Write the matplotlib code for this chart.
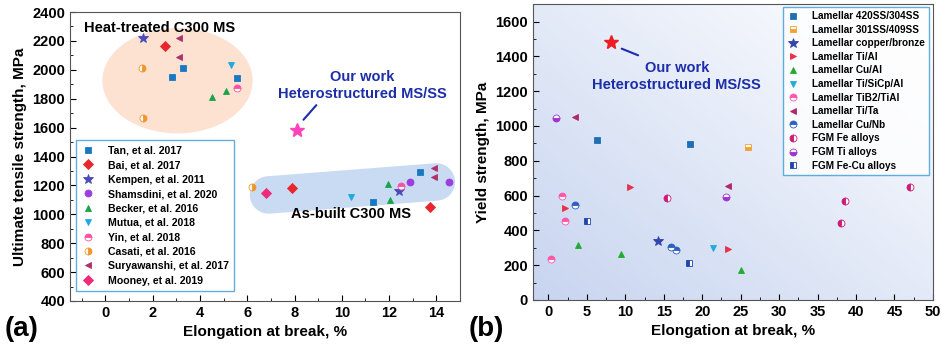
import numpy as np
import matplotlib
matplotlib.use("Agg")
import matplotlib.pyplot as plt
from matplotlib.patches import Ellipse
from matplotlib.ticker import MultipleLocator
from matplotlib.colors import LinearSegmentedColormap

plt.rcParams['font.family'] = ['Liberation Sans', 'DejaVu Sans']
plt.rcParams['font.weight'] = 'bold'

# ---- panel (a): UTS vs elongation ----
a_names = ["Tan, et al. 2017", "Bai, et al. 2017", "Kempen, et al. 2011",
           "Shamsdini, et al. 2020", "Becker, et al. 2016", "Mutua, et al. 2018",
           "Yin, et al. 2018", "Casati, et al. 2016", "Suryawanshi, et al. 2017",
           "Mooney, et al. 2019"]
a_x = [[2.8, 3.3, 5.55, 11.3, 13.3], [2.5, 7.9, 13.75], [1.6, 12.4],
       [12.9, 14.55], [4.5, 5.1, 11.95, 12.05], [5.3, 10.4],
       [5.55, 12.5], [1.55, 1.6, 6.2], [3.1, 3.1, 13.9, 13.9], [6.8]]
a_y = [[1950, 2015, 1945, 1085, 1293], [2165, 1182, 1050], [2220, 1160],
       [1224, 1224], [1810, 1855, 1210, 1100], [2035, 1120],
       [1875, 1196], [2010, 1665, 1189], [2220, 2090, 1320, 1258], [1147]]
a_style = [('s', '#1a78c2', 'full'), ('D', '#e8262e', 'full'), ('*', '#4a4ab8', 'full'),
           ('o', '#9b3de0', 'full'), ('^', '#1aa34a', 'full'), ('v', '#20a8e0', 'full'),
           ('o', '#ff4fa0', 'top'), ('o', '#f0952a', 'right'), ('<', '#b0306a', 'full'),
           ('D', '#ee2a7b', 'full')]
a_ours = (8.1, 1583)

# ---- panel (b): yield strength vs elongation ----
b_names = ["Lamellar 420SS/304SS", "Lamellar 301SS/409SS", "Lamellar copper/bronze",
           "Lamellar Ti/Al", "Lamellar Cu/Al", "Lamellar Ti/SiCp/Al",
           "Lamellar TiB2/TiAl", "Lamellar Ti/Ta", "Lamellar Cu/Nb",
           "FGM Fe alloys", "FGM Ti alloys", "FGM Fe-Cu alloys"]
b_x = [[6.3, 18.4], [25.9], [14.2], [2.2, 10.6, 23.4], [3.9, 9.5, 25.1], [21.4],
       [1.8, 2.2, 0.4], [3.4, 23.3], [3.5, 16.0, 16.6], [15.4, 47.0, 38.6, 38.0],
       [1.05, 23.1], [5.0, 18.3]]
b_y = [[917, 894], [877], [338], [527, 650, 292], [315, 264, 172], [298],
       [596, 453, 235], [1054, 653], [544, 304, 290], [584, 648, 567, 441],
       [1043, 590], [453, 212]]
b_style = [('s', '#1f6fb5', 'full'), ('s', '#f5a030', 'bottom'), ('*', '#3344aa', 'full'),
           ('>', '#e8304a', 'full'), ('^', '#22aa33', 'full'), ('v', '#22aadd', 'full'),
           ('o', '#ff55aa', 'top'), ('<', '#b02a6a', 'full'), ('o', '#2a60c0', 'top'),
           ('o', '#cc1a77', 'left'), ('o', '#a030d0', 'bottom'), ('s', '#1f45a8', 'left')]
b_ours = (8.2, 1484)

fig = plt.figure(figsize=(9.42, 3.44), dpi=100)
ax1 = fig.add_axes([0.0743, 0.125, 0.414, 0.840])
ax2 = fig.add_axes([0.5658, 0.128, 0.4246, 0.860])

label_color = '#1c2ea8'

# panel (a)
ax1.add_patch(Ellipse((3.05, 1925), 6.3, 720, angle=0, color='#fde2d2', zorder=0))
ax1.plot([6.9, 14.0], [1134, 1224], color='#c8dbf2', lw=27, solid_capstyle='round', zorder=0)
for name, xs, ys, (m, c, fs) in zip(a_names, a_x, a_y, a_style):
    ms = 7.5 if m == '*' else 5
    ax1.plot(xs, ys, ls='none', marker=m, color=c, ms=ms, fillstyle=fs,
             markerfacecoloralt='white', markeredgewidth=0.6, label=name, zorder=3)
ax1.plot(*a_ours, marker='*', color='#ff44bb', ms=10, ls='none', zorder=4)
ax1.annotate('', xy=(8.3, 1640), xytext=(9.0, 1770),
             arrowprops=dict(arrowstyle='-', color=label_color, lw=1.5))
ax1.text(10.85, 1890, 'Our work\nHeterostructured MS/SS', ha='center', va='center',
         color=label_color, fontsize=10.5, linespacing=1.3)
ax1.text(-0.9, 2290, 'Heat-treated C300 MS', fontsize=10.5, ha='left', va='center')
ax1.text(10.4, 1000, 'As-built C300 MS', fontsize=10.5, ha='center', va='center')
ax1.set_xlim(-1.5, 15)
ax1.set_ylim(400, 2400)
ax1.set_xticks([0, 2, 4, 6, 8, 10, 12, 14])
ax1.xaxis.set_minor_locator(MultipleLocator(1))
ax1.yaxis.set_major_locator(MultipleLocator(200))
ax1.yaxis.set_minor_locator(MultipleLocator(100))
ax1.set_xlabel('Elongation at break, %', fontsize=11, fontweight='bold')
ax1.set_ylabel('Ultimate tensile strength, MPa', fontsize=11, fontweight='bold')
leg1 = ax1.legend(loc='lower left', bbox_to_anchor=(0.016, 0.035), fontsize=7.6,
                  frameon=True, fancybox=False, edgecolor='#3a9ad6',
                  labelspacing=0.42, handletextpad=1.3, borderpad=0.5,
                  handlelength=1.2, borderaxespad=0)
leg1.get_frame().set_linewidth(1.0)

# panel (b)
grad = np.add.outer(np.linspace(1, 0, 200), np.linspace(0, 1, 200)) / 2
cmap = LinearSegmentedColormap.from_list('bg', ['#c8d5f0', '#ffffff'])
ax2.imshow(grad, extent=(-2, 50, 0, 1700), aspect='auto', cmap=cmap,
           origin='upper', zorder=0)
for name, xs, ys, (m, c, fs) in zip(b_names, b_x, b_y, b_style):
    ms = 7.5 if m == '*' else 5
    ax2.plot(xs, ys, ls='none', marker=m, color=c, ms=ms, fillstyle=fs,
             markerfacecoloralt='white', markeredgewidth=0.6, label=name, zorder=3)
ax2.plot(*b_ours, marker='*', color='#ee1c24', ms=10, ls='none', zorder=4)
ax2.annotate('', xy=(9.2, 1450), xytext=(12.0, 1400),
             arrowprops=dict(arrowstyle='-', color=label_color, lw=1.5))
ax2.text(16.7, 1285, 'Our work\nHeterostructured MS/SS', ha='center', va='center',
         color=label_color, fontsize=10.5, linespacing=1.3)
ax2.set_xlim(-2, 50)
ax2.set_ylim(0, 1700)
ax2.xaxis.set_major_locator(MultipleLocator(5))
ax2.xaxis.set_minor_locator(MultipleLocator(2.5))
ax2.yaxis.set_major_locator(MultipleLocator(200))
ax2.yaxis.set_minor_locator(MultipleLocator(100))
ax2.set_xlabel('Elongation at break, %', fontsize=11, fontweight='bold')
ax2.set_ylabel('Yield strength, MPa', fontsize=11, fontweight='bold')
leg2 = ax2.legend(loc='upper right', bbox_to_anchor=(0.99, 0.99), fontsize=7.2,
                  frameon=True, fancybox=False, edgecolor='#3a9ad6',
                  labelspacing=0.36, handletextpad=1.3, borderpad=0.4,
                  handlelength=1.2, borderaxespad=0)
leg2.get_frame().set_linewidth(1.0)

for ax in (ax1, ax2):
    ax.tick_params(which='both', direction='in', labelsize=10.5, top=False, right=False)
    ax.tick_params(which='major', length=4)
    ax.tick_params(which='minor', length=2)
    for sp in ax.spines.values():
        sp.set_color('#555555')
    for lab in ax.get_xticklabels() + ax.get_yticklabels():
        lab.set_fontweight('bold')

fig.text(0.005, 0.045, '(a)', fontsize=20, ha='left', va='center')
fig.text(0.497, 0.045, '(b)', fontsize=20, ha='left', va='center')

fig.savefig('out.png', dpi=100)
